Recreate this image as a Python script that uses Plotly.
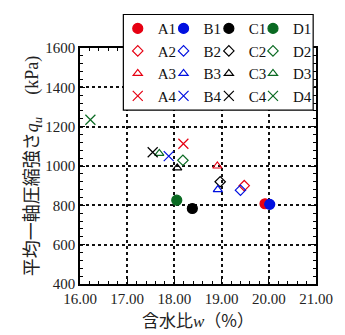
import plotly.graph_objects as go

# data
names = ["A1", "B1", "C1", "D1",
         "A2", "B2", "C2", "D2",
         "A3", "B3", "C3", "D3",
         "A4", "B4", "C4", "D4"]
water = [19.92, 20.02, 18.38, 18.05,
         19.48, 19.40, 18.97, 18.18,
         18.91, 18.92, 18.06, 17.68,
         18.19, 17.88, 17.54, 16.22]
strength = [808, 805, 784, 826,
            900, 877, 920, 1029,
            1000, 880, 990, 1064,
            1113, 1050, 1070, 1235]

color_map = {"A": "#e60012", "B": "#0010e0", "C": "#000000", "D": "#0a6a22"}
symbol_map = {"1": "circle", "2": "diamond-open", "3": "triangle-up-open", "4": "x-thin-open"}
size_map = {"1": 10, "2": 8, "3": 8, "4": 10}
legend_map = {"A": "legend", "B": "legend2", "C": "legend3", "D": "legend4"}

fig = go.Figure()
for n, xv, yv in zip(names, water, strength):
    c = color_map[n[0]]
    fig.add_trace(go.Scatter(
        x=[xv], y=[yv], name=n, mode="markers",
        legend=legend_map[n[0]], legendgroup=n,
        marker=dict(symbol=symbol_map[n[1]], size=size_map[n[1]], color=c,
                    line=dict(color=c, width=1.2)),
    ))

serif = "Liberation Serif"
axis_common = dict(
    showline=True, linecolor="black", linewidth=1.5, mirror="ticks",
    ticks="inside", ticklen=5, tickcolor="black", tickwidth=1,
    showgrid=True, gridcolor="#111", griddash="dot", gridwidth=1.5,
    zeroline=False,
    tickfont=dict(family=serif, size=15, color="#222"),
)

fig.update_xaxes(
    range=[16, 21], dtick=1, tickformat=".2f",
    minor=dict(dtick=0.2, ticks="inside", ticklen=3, tickcolor="black", showgrid=False),
    title=dict(text="含水比<i><span style='font-family:Liberation Serif'>w</span></i>（%）",
               font=dict(family="Noto Sans CJK JP", size=17, color="#222"), standoff=4),
    **axis_common,
)
fig.update_yaxes(
    range=[400, 1600], dtick=200,
    minor=dict(dtick=40, ticks="inside", ticklen=3, tickcolor="black", showgrid=False),
    title=dict(text="平均一軸圧縮強さ<i><span style='font-family:Liberation Serif'>q<sub>u</sub></span></i>　 <span style='font-family:Liberation Serif'>(kPa)</span>",
               font=dict(family="Noto Sans CJK JP", size=18, color="#222"), standoff=2),
    **axis_common,
)

leg_common = dict(
    orientation="v", xanchor="left", y=1.152, yanchor="top",
    bgcolor="rgba(0,0,0,0)", borderwidth=0, tracegroupgap=3,
    font=dict(family=serif, size=15, color="#111"),
    traceorder="normal", itemwidth=30,
)

fig.update_layout(
    width=345, height=335,
    margin=dict(l=80, r=20, t=44, b=44),
    plot_bgcolor="white", paper_bgcolor="white",
    showlegend=True,
    legend=dict(x=0.160, **leg_common),
    legend2=dict(x=0.354, **leg_common),
    legend3=dict(x=0.546, **leg_common),
    legend4=dict(x=0.733, **leg_common),
    shapes=[dict(type="rect", xref="paper", yref="paper",
                 x0=0.1837, x1=0.988, y0=0.737, y1=1.142,
                 fillcolor="white", line=dict(color="black", width=1.2),
                 layer="above")],
)

fig.write_html("out.html")
